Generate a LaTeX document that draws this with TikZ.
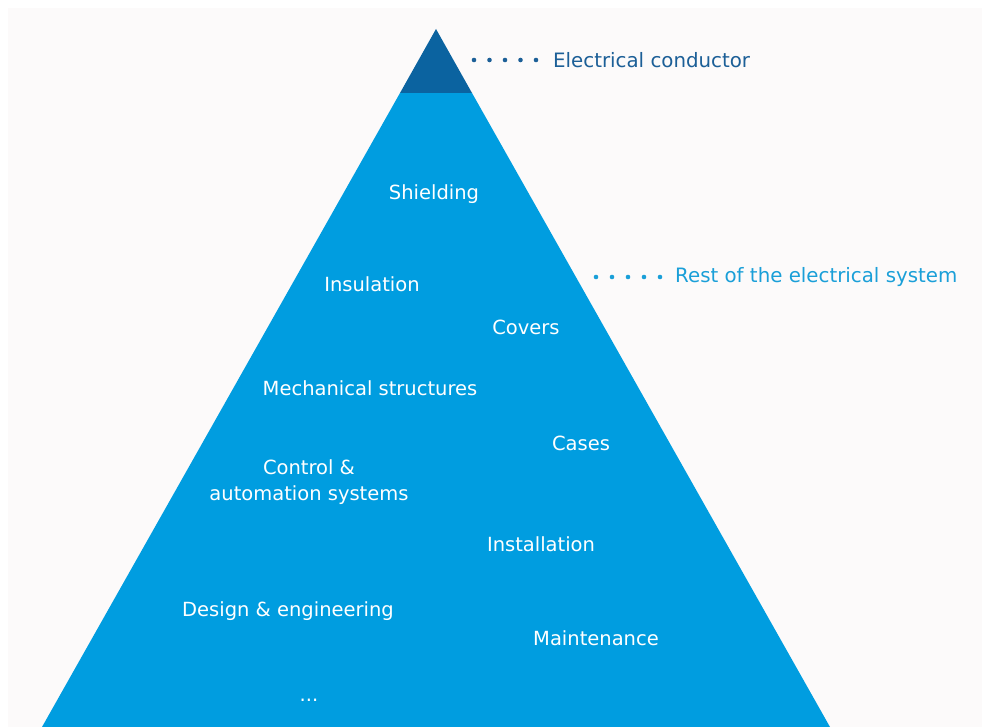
\documentclass[tikz,border=0pt]{standalone}
\usepackage{fontspec}
\setmainfont{DejaVu Sans}
\definecolor{bgc}{HTML}{FCFAFA}
\definecolor{mainblue}{HTML}{009DE0}
\definecolor{tipblue}{HTML}{0B63A0}
\definecolor{darktxt}{HTML}{1C5F97}
\definecolor{lighttxt}{HTML}{1A9FD8}
\begin{document}
\begin{tikzpicture}[x=1pt,y=-1pt,
  inlabel/.style={text=white,font=\fontsize{19.5}{26}\selectfont,inner sep=0pt,align=center},
  outlabel/.style={font=\fontsize{19.8}{24}\selectfont,inner sep=0pt,anchor=west}]
\useasboundingbox (0,0) rectangle (982,727);
\fill[white] (0,0) rectangle (982,727);
\fill[bgc] (8,8) rectangle (982,727);
% pyramid
\coordinate (apex) at (436,29);
\coordinate (bl) at (42,727);
\coordinate (br) at (830,727);
\coordinate (tl) at (400,93);
\coordinate (tr) at (472,93);
\fill[mainblue] (tl) -- (tr) -- (br) -- (bl) -- cycle;
\fill[tipblue] (apex) -- (tr) -- (tl) -- cycle;
% labels inside
\node[inlabel] (shield) at (434,194) {Shielding};
\node[inlabel] (insul) at (372,284) {Insulation};
\node[inlabel] (covers) at (526,327) {Covers};
\node[inlabel] (mech) at (370,388) {Mechanical structures};
\node[inlabel] (cases) at (581,443) {Cases};
\node[inlabel] (ctrl) at (309,482) {Control \&\\automation systems};
\node[inlabel] (inst) at (541,544) {Installation};
\node[inlabel] (design) at (288,611) {Design \& engineering};
\node[inlabel] (maint) at (596,638) {Maintenance};
\node[inlabel,anchor=base] (more) at (309,701) {...};
% outside labels
\node[outlabel,text=darktxt] (cond) at (553,60) {Electrical conductor};
\node[outlabel,text=lighttxt] (rest) at (675,277) {Rest of the electrical system};
\foreach \i in {0,...,4}{
  \fill[darktxt] (474+15.5*\i,60) circle (2.3);
  \fill[lighttxt] (596+16*\i,277) circle (2.3);
}
\end{tikzpicture}
\end{document}
